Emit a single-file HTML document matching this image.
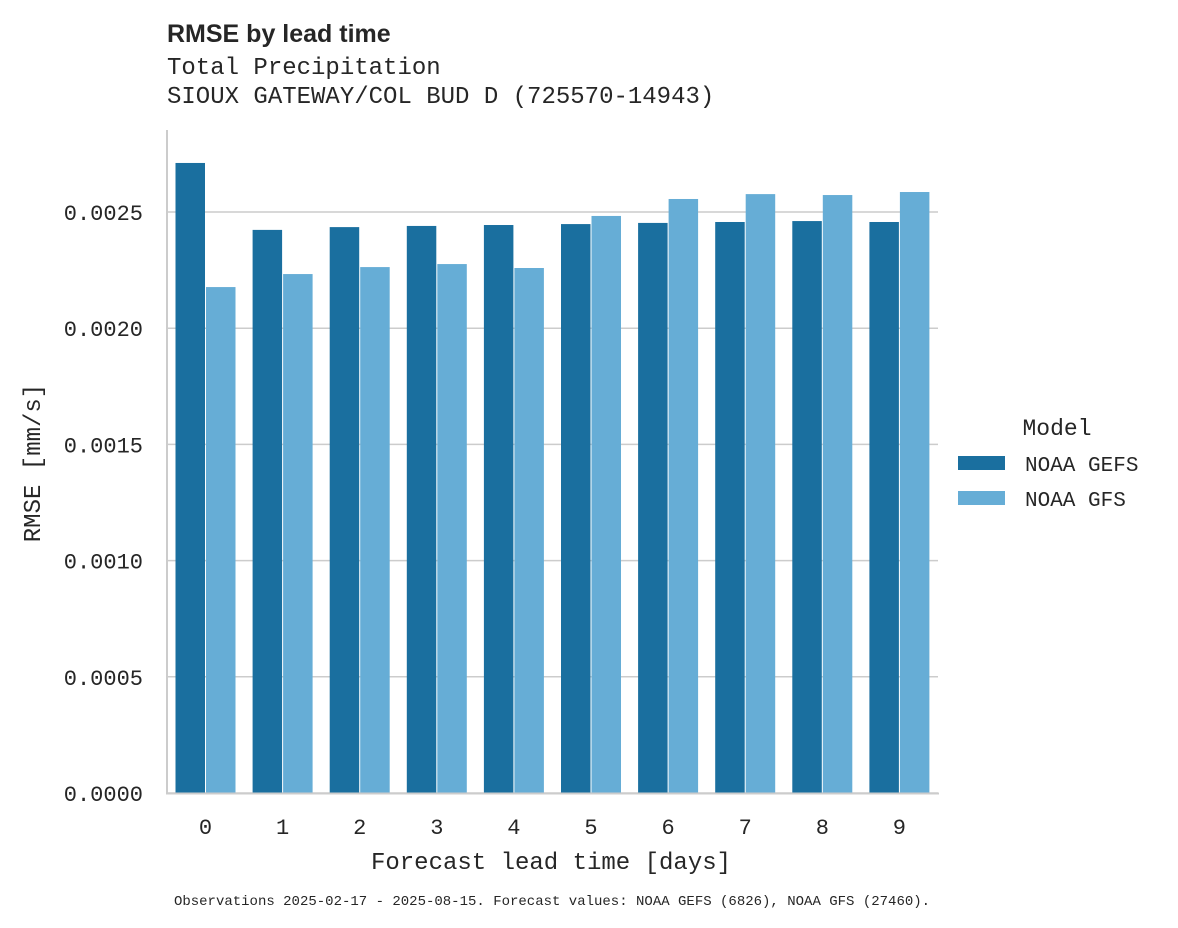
<!DOCTYPE html>
<html><head><meta charset="utf-8"><style>
body{margin:0;background:#fff;}
svg{display:block;font-family:"Liberation Mono","DejaVu Sans Mono",monospace;}
</style></head><body>
<svg id="chart" width="1178" height="928" xmlns="http://www.w3.org/2000/svg">
<text x="167" y="42" font-family="Liberation Sans, sans-serif" font-weight="bold" font-size="25" fill="#262626">RMSE by lead time</text>
<text x="167" y="74" font-size="24" fill="#262626">Total Precipitation</text>
<text x="167" y="103" font-size="24" fill="#262626">SIOUX GATEWAY/COL BUD D (725570-14943)</text>
<g id="grid"></g>
<g id="bars"></g>
<line x1="167" y1="130" x2="167" y2="794" stroke="#ccc" stroke-width="2"/>
<line x1="166" y1="793.5" x2="939" y2="793.5" stroke="#ccc" stroke-width="2"/>
<g id="ticks"></g>
<text x="551" y="869" text-anchor="middle" font-size="24" fill="#262626">Forecast lead time [days]</text>
<text transform="translate(40,463) rotate(-90)" text-anchor="middle" font-size="24" fill="#262626">RMSE [mm/s]</text>
<g>
<text x="1057" y="435" text-anchor="middle" font-size="23" fill="#262626">Model</text>
<rect x="958" y="456" width="47" height="14" fill="#1a6f9f"/>
<text x="1025" y="471" font-size="21" fill="#262626">NOAA GEFS</text>
<rect x="958" y="491" width="47" height="14" fill="#66add6"/>
<text x="1025" y="506" font-size="21" fill="#262626">NOAA GFS</text>
</g>
<text x="552" y="905" text-anchor="middle" font-size="14" fill="#262626">Observations 2025-02-17 - 2025-08-15. Forecast values: NOAA GEFS (6826), NOAA GFS (27460).</text>
</svg>
<script>
const categories=["0","1","2","3","4","5","6","7","8","9"];
const gefs=[0.002711,0.002423,0.002435,0.002440,0.002444,0.002448,0.002453,0.002457,0.002461,0.002457];
const gfs=[0.002177,0.002233,0.002263,0.002276,0.002259,0.002483,0.002556,0.002577,0.002573,0.002586];
const yTicks=[0,0.0005,0.001,0.0015,0.002,0.0025];
const yTickLabels=["0.0000","0.0005","0.0010","0.0015","0.0020","0.0025"];
const NS="http://www.w3.org/2000/svg";
const y0=793,yPerUnit=581/0.0025;
function y(v){return y0-v*yPerUnit;}
function xc(i){return 205.5+i*77.1;}
const grid=document.getElementById('grid'),bars=document.getElementById('bars'),ticks=document.getElementById('ticks');
yTicks.forEach((t,i)=>{
 const l=document.createElementNS(NS,'line');
 
 
 l.setAttribute('x1',167);l.setAttribute('x2',938);l.setAttribute('y1',y(t));l.setAttribute('y2',y(t));
 l.setAttribute('stroke','#cccccc');l.setAttribute('stroke-width','1.5');grid.appendChild(l);
 const tx=document.createElementNS(NS,'text');
 
 
 tx.setAttribute('x',143);tx.setAttribute('y',y(t)+8);tx.setAttribute('text-anchor','end');
 tx.setAttribute('font-size','22');tx.setAttribute('fill','#262626');tx.textContent=yTickLabels[i];ticks.appendChild(tx);
});
categories.forEach((c,i)=>{
 [[gefs,'#1a6f9f',-30,'bar-gefs'],[gfs,'#66add6',0.5,'bar-gfs']].forEach(([arr,col,off,nm])=>{
  const r=document.createElementNS(NS,'rect');
  
  
  r.setAttribute('x',xc(i)+off);r.setAttribute('width',29.5);
  r.setAttribute('y',y(arr[i]));r.setAttribute('height',y0-y(arr[i]));
  r.setAttribute('fill',col);bars.appendChild(r);
 });
 const tx=document.createElementNS(NS,'text');
 
 
 tx.setAttribute('x',xc(i));tx.setAttribute('y',834);tx.setAttribute('text-anchor','middle');
 tx.setAttribute('font-size','22');tx.setAttribute('fill','#262626');tx.textContent=c;ticks.appendChild(tx);
});
</script>
</body></html>
